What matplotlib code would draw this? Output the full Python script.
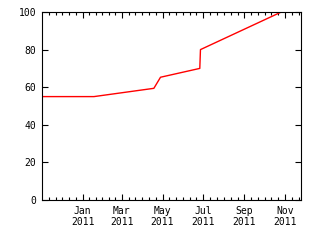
import matplotlib
matplotlib.use("Agg")
import matplotlib.pyplot as plt
import matplotlib.dates as mdates
import numpy as np
import datetime as dt

# data
dates = ["2010-11-01", "2011-01-18", "2011-04-18", "2011-04-28",
         "2011-06-26", "2011-06-27", "2011-10-24"]
values = [55, 55, 59.4, 65.3, 70, 80, 99.6]

tick_dates = ["2011-01-01", "2011-03-01", "2011-05-01",
              "2011-07-01", "2011-09-01", "2011-11-01"]
tick_labels = ["Jan\n2011", "Mar\n2011", "May\n2011",
               "Jul\n2011", "Sep\n2011", "Nov\n2011"]
y_ticks = [0, 20, 40, 60, 80, 100]

x = [dt.datetime.strptime(d, "%Y-%m-%d") for d in dates]
xt = [dt.datetime.strptime(d, "%Y-%m-%d") for d in tick_dates]

fig = plt.figure(figsize=(3.2, 2.4), dpi=100)
ax = fig.add_axes([42 / 320, 40 / 240, 259 / 320, 188 / 240])

ax.plot(x, values, color="red", lw=1)

ax.set_xlim(dt.datetime(2010, 11, 1), dt.datetime(2011, 11, 25))
ax.set_ylim(0, 100)

ax.set_xticks(xt)
ax.set_xticklabels(tick_labels)
ax.set_yticks(y_ticks)

# minor ticks: 6 per two-month interval
start = mdates.date2num(dt.datetime(2010, 11, 1))
end = mdates.date2num(dt.datetime(2011, 11, 25))
major = [start] + [mdates.date2num(t) for t in xt] + [mdates.date2num(dt.datetime(2012, 1, 1))]
minor = []
for a, b in zip(major[:-1], major[1:]):
    minor += list(np.linspace(a, b, 7)[1:-1])
minor = [m for m in minor if start < m < end]
ax.set_xticks(minor, minor=True)

ax.tick_params(axis="both", which="both", direction="in",
               top=True, right=True, labelsize=7, width=0.8, pad=4)
ax.tick_params(axis="both", which="major", length=4)
ax.tick_params(axis="x", which="minor", length=2)
for lbl in ax.get_xticklabels() + ax.get_yticklabels():
    lbl.set_family("DejaVu Sans Mono")
for s in ax.spines.values():
    s.set_linewidth(0.8)

fig.savefig("out.png", dpi=100)
